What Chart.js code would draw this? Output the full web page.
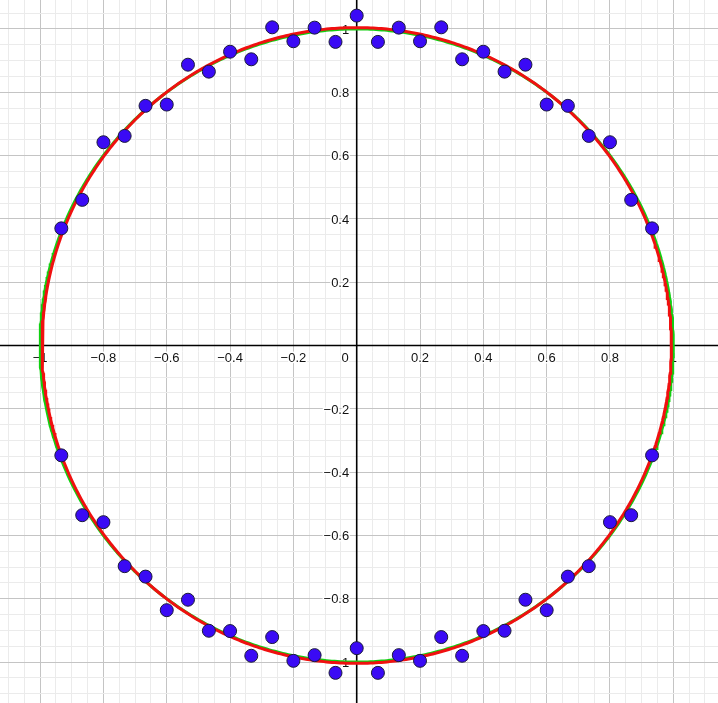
<!DOCTYPE html>
<html>
<head>
<meta charset="utf-8">
<script src="https://cdn.jsdelivr.net/npm/chart.js@4.4.1/dist/chart.umd.min.js"></script>
<style>
  html, body { margin: 0; padding: 0; background: #ffffff; }
  #wrap { width: 718px; height: 703px; }
</style>
</head>
<body>
<div id="wrap"><canvas id="c" width="718" height="703"></canvas></div>
<script>
// ---- data ----
const pointX = [-0.933, -0.867, -0.8, -0.733, -0.667, -0.6, -0.533, -0.467, -0.4, -0.333, -0.267, -0.2, -0.133, -0.067, 0,
                 0.067, 0.133, 0.2, 0.267, 0.333, 0.4, 0.467, 0.533, 0.6, 0.667, 0.733, 0.8, 0.867, 0.933];
const upperY = [0.370, 0.460, 0.642, 0.662, 0.757, 0.761, 0.887, 0.865, 0.928, 0.904, 1.005, 0.961, 1.004, 0.959, 1.042,
                0.959, 1.004, 0.961, 1.005, 0.904, 0.928, 0.865, 0.887, 0.761, 0.757, 0.662, 0.642, 0.460, 0.370];
const lowerY = [-0.347, -0.536, -0.558, -0.697, -0.730, -0.836, -0.803, -0.901, -0.902, -0.980, -0.921, -0.996, -0.978, -1.034, -0.956,
                -1.034, -0.978, -0.996, -0.921, -0.980, -0.902, -0.901, -0.803, -0.836, -0.730, -0.697, -0.558, -0.536, -0.347];

// model curves: unit circle (green) and fitted ellipse (red)
const circleRadius = 1;
const fitRadiusX = 0.994;
const fitRadiusY = 1.004;

// axis ticks
const xTickValues = [-1, -0.8, -0.6, -0.4, -0.2, 0.2, 0.4, 0.6, 0.8, 1];
const xTickLabels = ['\u22121', '\u22120.8', '\u22120.6', '\u22120.4', '\u22120.2', '0.2', '0.4', '0.6', '0.8', '1'];
const yTickValues = [1, 0.8, 0.6, 0.4, 0.2, -0.2, -0.4, -0.6, -0.8, -1];
const yTickLabels = ['1', '0.8', '0.6', '0.4', '0.2', '\u22120.2', '\u22120.4', '\u22120.6', '\u22120.8', '\u22121'];
const originLabel = '0';

// view window
const xMin = -1.1267, xMax = 1.1412;
const yMin = -1.1292, yMax = 1.0913;
const minorStep = 0.05, majorStep = 0.2;

// ---- build datasets ----
const points = [];
pointX.forEach((x, i) => points.push({x: x, y: upperY[i]}));
pointX.forEach((x, i) => points.push({x: x, y: lowerY[i]}));

function ellipse(rx, ry) {
  const out = [];
  const n = 720;
  for (let i = 0; i <= n; i++) {
    const t = 2 * Math.PI * i / n;
    out.push({x: rx * Math.cos(t), y: ry * Math.sin(t)});
  }
  return out;
}

function gridValues(min, max) {
  const vals = [];
  const k0 = Math.ceil(min / minorStep), k1 = Math.floor(max / minorStep);
  for (let k = k0; k <= k1; k++) vals.push({value: Math.round(k * minorStep * 1000) / 1000});
  return vals;
}
function isMajor(v) { const q = v / majorStep; return Math.abs(q - Math.round(q)) < 1e-6; }
function gridColor(ctx) {
  const v = ctx.tick ? ctx.tick.value : NaN;
  return isMajor(v) ? '#c4c4c4' : '#ebebeb';
}

const axisPlugin = {
  id: 'axisLabels',
  beforeDatasetsDraw(chart) {
    const ctx = chart.ctx;
    const area = chart.chartArea;
    const xs = chart.scales.x, ys = chart.scales.y;
    const ox = xs.getPixelForValue(0), oy = ys.getPixelForValue(0);
    ctx.save();
    // axis lines
    ctx.strokeStyle = '#000000';
    ctx.lineWidth = 1.6;
    ctx.beginPath();
    ctx.moveTo(area.left, oy); ctx.lineTo(area.right, oy);
    ctx.moveTo(ox, area.top); ctx.lineTo(ox, area.bottom);
    ctx.stroke();
    // labels
    ctx.font = '13px "Liberation Sans", Arial, sans-serif';
    ctx.lineJoin = 'round';
    ctx.lineWidth = 3;
    ctx.strokeStyle = '#ffffff';
    ctx.fillStyle = '#111111';
    ctx.textBaseline = 'alphabetic';
    function put(t, x, y) { ctx.strokeText(t, x, y); ctx.fillText(t, x, y); }
    ctx.textAlign = 'center';
    xTickValues.forEach((v, i) => put(xTickLabels[i], xs.getPixelForValue(v), oy + 16));
    ctx.textAlign = 'right';
    yTickValues.forEach((v, i) => put(yTickLabels[i], ox - 7.5, ys.getPixelForValue(v) + 4.7));
    put(originLabel, ox - 8, oy + 16);
    ctx.restore();
  }
};

new Chart(document.getElementById('c'), {
  type: 'scatter',
  data: {
    datasets: [
      {
        label: 'data',
        data: points,
        pointRadius: 6.5,
        pointHoverRadius: 6.5,
        pointBackgroundColor: '#3a0af5',
        pointBorderColor: '#1a1a3a',
        pointBorderWidth: 1,
        showLine: false
      },
      {
        label: 'fit',
        data: ellipse(fitRadiusX, fitRadiusY),
        showLine: true,
        pointRadius: 0,
        borderColor: '#f01010',
        borderWidth: 3,
        tension: 0,
        fill: false
      },
      {
        label: 'circle',
        data: ellipse(circleRadius, circleRadius),
        showLine: true,
        pointRadius: 0,
        borderColor: '#10d010',
        borderWidth: 3,
        tension: 0,
        fill: false
      }
    ]
  },
  options: {
    responsive: false,
    animation: false,
    events: [],
    layout: { padding: 0, autoPadding: false },
    plugins: { legend: { display: false }, tooltip: { enabled: false } },
    scales: {
      x: {
        type: 'linear',
        min: xMin, max: xMax,
        afterBuildTicks: (s) => { s.ticks = gridValues(xMin, xMax); },
        ticks: { display: false },
        border: { display: false },
        grid: { drawTicks: false, color: gridColor, lineWidth: 1 }
      },
      y: {
        type: 'linear',
        min: yMin, max: yMax,
        afterBuildTicks: (s) => { s.ticks = gridValues(yMin, yMax); },
        ticks: { display: false },
        border: { display: false },
        grid: { drawTicks: false, color: gridColor, lineWidth: 1 }
      }
    }
  },
  plugins: [axisPlugin]
});
</script>
</body>
</html>
